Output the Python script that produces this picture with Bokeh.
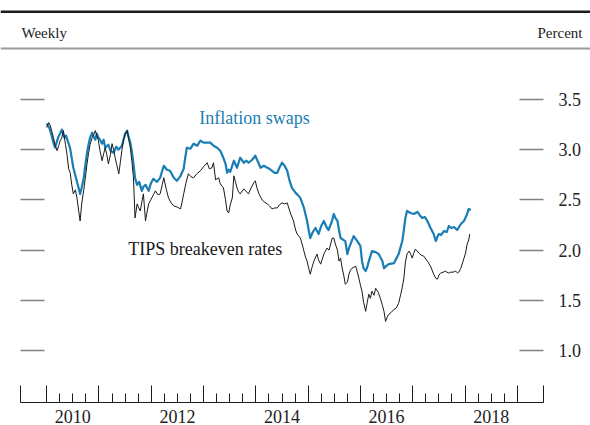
from bokeh.plotting import figure
from bokeh.models import (LinearAxis, FixedTicker, Span, Label, Range1d,
                          PrintfTickFormatter, CustomLabelingPolicy)
from bokeh.layouts import column
from bokeh.embed import file_html
from bokeh.resources import INLINE

# ---------------- data (decimal years, percent) ----------------
swaps_t = [2010.00, 2010.05, 2010.09, 2010.13, 2010.16, 2010.22, 2010.29, 2010.34, 2010.37, 2010.42,
           2010.45, 2010.51, 2010.57, 2010.61, 2010.64, 2010.67, 2010.71, 2010.74, 2010.77, 2010.80,
           2010.83, 2010.87, 2010.90, 2010.93, 2010.96, 2010.99, 2011.02, 2011.06, 2011.09, 2011.12,
           2011.18, 2011.22, 2011.28, 2011.33, 2011.37, 2011.44, 2011.47, 2011.50, 2011.54, 2011.57,
           2011.60, 2011.63, 2011.66, 2011.69, 2011.73, 2011.77, 2011.82, 2011.85, 2011.89, 2011.92,
           2011.95, 2011.99, 2012.04, 2012.11, 2012.17, 2012.21, 2012.24, 2012.30, 2012.36, 2012.43,
           2012.49, 2012.56, 2012.62, 2012.65, 2012.68, 2012.75, 2012.81, 2012.88, 2012.94, 2013.00,
           2013.07, 2013.13, 2013.19, 2013.26, 2013.32, 2013.37, 2013.42, 2013.45, 2013.48, 2013.51,
           2013.58, 2013.64, 2013.70, 2013.77, 2013.82, 2013.86, 2013.93, 2013.99, 2014.04, 2014.09,
           2014.15, 2014.22, 2014.26, 2014.31, 2014.36, 2014.41, 2014.45, 2014.50, 2014.55, 2014.60,
           2014.64, 2014.69, 2014.76, 2014.80, 2014.85, 2014.92, 2014.98, 2015.01, 2015.04, 2015.09,
           2015.14, 2015.20, 2015.25, 2015.30, 2015.35, 2015.39, 2015.45, 2015.49, 2015.52, 2015.56,
           2015.59, 2015.62, 2015.68, 2015.71, 2015.75, 2015.78, 2015.81, 2015.87, 2015.94, 2016.00,
           2016.03, 2016.06, 2016.10, 2016.13, 2016.16, 2016.22, 2016.29, 2016.35, 2016.42, 2016.45,
           2016.49, 2016.54, 2016.64, 2016.69, 2016.73, 2016.80, 2016.83, 2016.86, 2016.89, 2016.96,
           2017.02, 2017.09, 2017.13, 2017.18, 2017.23, 2017.28, 2017.34, 2017.40, 2017.44, 2017.47,
           2017.50, 2017.54, 2017.60, 2017.65, 2017.69, 2017.74, 2017.79, 2017.85, 2017.92, 2017.98,
           2018.04, 2018.07, 2018.11]
swaps_v = [3.26, 3.22, 3.15, 3.07, 3.02, 3.12, 3.20, 3.12, 3.14, 3.06,
           3.01, 2.82, 2.70, 2.62, 2.56, 2.62, 2.72, 2.85, 2.96, 3.05,
           3.12, 3.17, 3.13, 3.10, 3.16, 3.12, 3.10, 3.06, 3.10, 3.02,
           3.05, 2.99, 2.97, 3.03, 3.00, 3.04, 3.10, 3.16, 3.19, 3.12,
           3.07, 2.98, 2.86, 2.72, 2.65, 2.68, 2.59, 2.63, 2.65, 2.62,
           2.59, 2.66, 2.71, 2.68, 2.72, 2.79, 2.84, 2.80, 2.79, 2.72,
           2.69, 2.74, 2.81, 2.92, 3.02, 3.01, 3.06, 3.04, 3.09, 3.07,
           3.07, 3.07, 3.04, 3.02, 2.99, 2.93, 2.86, 2.77, 2.80, 2.78,
           2.89, 2.82, 2.92, 2.87, 2.89, 2.87, 2.90, 2.94, 2.88, 2.82,
           2.84, 2.82, 2.81, 2.79, 2.77, 2.77, 2.82, 2.87, 2.84, 2.79,
           2.70, 2.62, 2.57, 2.55, 2.52, 2.42, 2.29, 2.20, 2.12, 2.18,
           2.22, 2.16, 2.24, 2.29, 2.23, 2.20, 2.28, 2.36, 2.32, 2.29,
           2.20, 2.12, 2.10, 2.09, 1.96, 2.02, 2.06, 2.14, 2.09, 2.04,
           1.89, 1.82, 1.79, 1.83, 1.89, 1.99, 1.98, 1.96, 1.89, 1.82,
           1.84, 1.86, 1.87, 1.92, 1.96, 2.09, 2.20, 2.32, 2.39, 2.37,
           2.36, 2.38, 2.35, 2.32, 2.33, 2.29, 2.22, 2.16, 2.09, 2.13,
           2.16, 2.15, 2.19, 2.18, 2.24, 2.22, 2.23, 2.20, 2.26, 2.29,
           2.36, 2.41, 2.40]

tips_t = [2010.00, 2010.04, 2010.07, 2010.10, 2010.13, 2010.16, 2010.20, 2010.23, 2010.26, 2010.29,
          2010.32, 2010.36, 2010.39, 2010.42, 2010.45, 2010.48, 2010.51, 2010.55, 2010.58, 2010.61,
          2010.64, 2010.67, 2010.71, 2010.74, 2010.77, 2010.80, 2010.83, 2010.87, 2010.90, 2010.93,
          2010.96, 2010.99, 2011.02, 2011.06, 2011.09, 2011.12, 2011.15, 2011.18, 2011.22, 2011.25,
          2011.28, 2011.31, 2011.34, 2011.38, 2011.41, 2011.44, 2011.47, 2011.50, 2011.54, 2011.57,
          2011.60, 2011.63, 2011.66, 2011.69, 2011.73, 2011.76, 2011.79, 2011.82, 2011.85, 2011.89,
          2011.92, 2011.95, 2011.98, 2012.01, 2012.04, 2012.08, 2012.13, 2012.17, 2012.21, 2012.24,
          2012.29, 2012.33, 2012.38, 2012.43, 2012.49, 2012.56, 2012.59, 2012.62, 2012.66, 2012.71,
          2012.76, 2012.81, 2012.87, 2012.94, 2013.00, 2013.07, 2013.11, 2013.16, 2013.19, 2013.23,
          2013.29, 2013.32, 2013.38, 2013.42, 2013.45, 2013.48, 2013.51, 2013.55, 2013.58, 2013.61,
          2013.64, 2013.67, 2013.70, 2013.77, 2013.82, 2013.86, 2013.91, 2013.96, 2013.99, 2014.02,
          2014.06, 2014.12, 2014.16, 2014.22, 2014.26, 2014.31, 2014.36, 2014.41, 2014.45, 2014.50,
          2014.55, 2014.60, 2014.63, 2014.66, 2014.72, 2014.76, 2014.79, 2014.85, 2014.89, 2014.92,
          2014.95, 2014.98, 2015.01, 2015.04, 2015.08, 2015.11, 2015.17, 2015.20, 2015.24, 2015.30,
          2015.36, 2015.40, 2015.43, 2015.46, 2015.49, 2015.52, 2015.56, 2015.59, 2015.62, 2015.65,
          2015.68, 2015.71, 2015.75, 2015.78, 2015.81, 2015.84, 2015.91, 2015.97, 2016.00, 2016.03,
          2016.06, 2016.10, 2016.13, 2016.16, 2016.19, 2016.22, 2016.26, 2016.29, 2016.34, 2016.38,
          2016.42, 2016.45, 2016.48, 2016.51, 2016.54, 2016.59, 2016.64, 2016.68, 2016.73, 2016.77,
          2016.80, 2016.83, 2016.86, 2016.89, 2016.93, 2016.96, 2016.99, 2017.02, 2017.05, 2017.12,
          2017.16, 2017.21, 2017.28, 2017.34, 2017.40, 2017.44, 2017.47, 2017.50, 2017.53, 2017.58,
          2017.63, 2017.68, 2017.72, 2017.77, 2017.82, 2017.86, 2017.88, 2017.92, 2017.95, 2017.98,
          2018.01, 2018.04, 2018.07, 2018.09]
tips_v = [3.22, 3.27, 3.24, 3.18, 3.12, 3.05, 2.99, 3.04, 3.09, 3.12,
          3.19, 3.05, 2.95, 2.81, 2.77, 2.65, 2.56, 2.60, 2.52, 2.40,
          2.29, 2.46, 2.60, 2.72, 2.85, 2.96, 3.05, 3.12, 3.15, 3.19,
          3.14, 3.09, 2.99, 2.89, 2.96, 3.02, 2.95, 2.86, 2.95, 3.06,
          3.00, 2.92, 2.85, 2.76, 2.88, 3.00, 3.10, 3.15, 3.19, 3.10,
          3.02, 2.88, 2.72, 2.32, 2.46, 2.42, 2.39, 2.48, 2.56, 2.29,
          2.38, 2.46, 2.49, 2.52, 2.55, 2.59, 2.55, 2.56, 2.65, 2.72,
          2.60, 2.52, 2.47, 2.44, 2.43, 2.41, 2.48, 2.56, 2.66, 2.76,
          2.73, 2.72, 2.76, 2.79, 2.83, 2.87, 2.81, 2.82, 2.87, 2.70,
          2.72, 2.66, 2.62, 2.50, 2.39, 2.37, 2.45, 2.52, 2.74, 2.68,
          2.62, 2.58, 2.56, 2.61, 2.58, 2.56, 2.62, 2.67, 2.69, 2.62,
          2.56, 2.50, 2.48, 2.46, 2.44, 2.41, 2.42, 2.42, 2.45, 2.47,
          2.46, 2.47, 2.42, 2.37, 2.29, 2.20, 2.16, 2.12, 2.05, 1.99,
          1.93, 1.89, 1.82, 1.76, 1.84, 1.89, 1.96, 1.90, 1.86, 1.96,
          2.02, 2.00, 2.06, 2.12, 2.12, 2.06, 2.00, 1.89, 1.92, 1.82,
          1.75, 1.66, 1.68, 1.76, 1.80, 1.82, 1.84, 1.72, 1.65, 1.59,
          1.48, 1.39, 1.48, 1.56, 1.52, 1.59, 1.55, 1.62, 1.58, 1.52,
          1.45, 1.39, 1.29, 1.33, 1.36, 1.38, 1.41, 1.42, 1.47, 1.56,
          1.63, 1.72, 1.88, 1.96, 1.99, 1.96, 1.92, 1.97, 2.01, 1.97,
          1.95, 1.94, 1.89, 1.84, 1.76, 1.72, 1.71, 1.75, 1.77, 1.78,
          1.79, 1.77, 1.78, 1.78, 1.79, 1.77, 1.78, 1.82, 1.87, 1.92,
          1.97, 2.06, 2.10, 2.16]

y_ticks = [1.0, 1.5, 2.0, 2.5, 3.0, 3.5]
year_bounds = list(range(2010, 2020))
label_years = [2010, 2012, 2014, 2016, 2018]

# ---------------- styling ----------------
FONT = "Liberation Serif"
BLUE = "#1a7db4"
DARK = "#1a1a1a"
TXT = "#222222"
X0, X1 = 2009.5, 2019.5
Y0, Y1 = 0.482, 3.988
NO_LABELS = CustomLabelingPolicy(code="return new Set()")

# ---------------- header ----------------
header = figure(width=590, height=50, x_range=Range1d(0, 590), y_range=Range1d(0, 50),
                output_backend="svg", toolbar_location=None, min_border=0,
                x_axis_location=None, y_axis_location=None)
header.frame_align = False
header.grid.visible = False
header.outline_line_color = None
header.add_layout(Span(location=38.7, dimension="width", line_color=DARK, line_width=2.6))
header.add_layout(Span(location=2.0, dimension="width", line_color="#9a9a9a", line_width=2.2))
header.add_layout(Label(x=21, y=18, text="Weekly", text_font=FONT, text_font_size="15px",
                        text_color=TXT, text_baseline="alphabetic", text_align="left"))
header.add_layout(Label(x=582, y=18, text="Percent", text_font=FONT, text_font_size="15px",
                        text_color=TXT, text_baseline="alphabetic", text_align="right"))

# ---------------- main chart ----------------
p = figure(width=590, height=375, x_range=Range1d(X0, X1), y_range=Range1d(Y0, Y1),
           output_backend="svg", toolbar_location=None,
           min_border_left=20, min_border_right=47, min_border_top=0, min_border_bottom=23,
           x_axis_location=None, y_axis_location=None)
p.frame_align = False
p.grid.visible = False
p.outline_line_color = None

quarters = [y + q for y in year_bounds[:-1] for q in (0.25, 0.5, 0.75)]
xa = LinearAxis(ticker=FixedTicker(ticks=[X0] + year_bounds + [X1], minor_ticks=quarters),
                major_tick_in=17, major_tick_out=0, minor_tick_in=9, minor_tick_out=0,
                axis_line_color=DARK, major_tick_line_color=DARK, minor_tick_line_color=DARK,
                axis_line_width=1.2, major_tick_line_width=1, minor_tick_line_width=1,
                major_label_policy=NO_LABELS, major_label_text_font_size="1px",
                major_label_standoff=0)
p.add_layout(xa, "below")

xl = LinearAxis(ticker=FixedTicker(ticks=[y + 0.5 for y in label_years]),
                major_label_overrides={y + 0.5: str(y) for y in label_years},
                major_tick_in=0, major_tick_out=0, minor_tick_in=0, minor_tick_out=0,
                axis_line_color=None, major_label_standoff=3,
                major_label_text_font=FONT, major_label_text_font_size="18px",
                major_label_text_color=TXT)
p.add_layout(xl, "below")

yl = LinearAxis(ticker=FixedTicker(ticks=y_ticks), major_tick_in=24, major_tick_out=0,
                minor_tick_in=0, minor_tick_out=0, axis_line_color=None,
                major_tick_line_color="#808080", major_tick_line_width=1.5,
                major_label_policy=NO_LABELS, major_label_text_font_size="1px",
                major_label_standoff=0)
p.add_layout(yl, "left")

yr = LinearAxis(ticker=FixedTicker(ticks=y_ticks), major_tick_in=24, major_tick_out=0,
                minor_tick_in=0, minor_tick_out=0, axis_line_color=None,
                major_tick_line_color="#808080", major_tick_line_width=1.5,
                formatter=PrintfTickFormatter(format="%.1f"),
                major_label_text_font=FONT, major_label_text_font_size="18px",
                major_label_text_color=TXT, major_label_standoff=15)
p.add_layout(yr, "right")

p.line(swaps_t, swaps_v, line_color=BLUE, line_width=2.2, line_join="round")
p.line(tips_t, tips_v, line_color=DARK, line_width=1.0, line_join="round")

p.add_layout(Label(x=2012.92, y=3.315, text="Inflation swaps", text_font=FONT,
                   text_font_size="18px", text_color=BLUE, text_baseline="alphabetic"))
p.add_layout(Label(x=2011.56, y=2.011, text="TIPS breakeven rates", text_font=FONT,
                   text_font_size="18px", text_color=DARK, text_baseline="alphabetic"))

layout = column(header, p, spacing=0)
open("out.html", "w").write(file_html(layout, INLINE))
